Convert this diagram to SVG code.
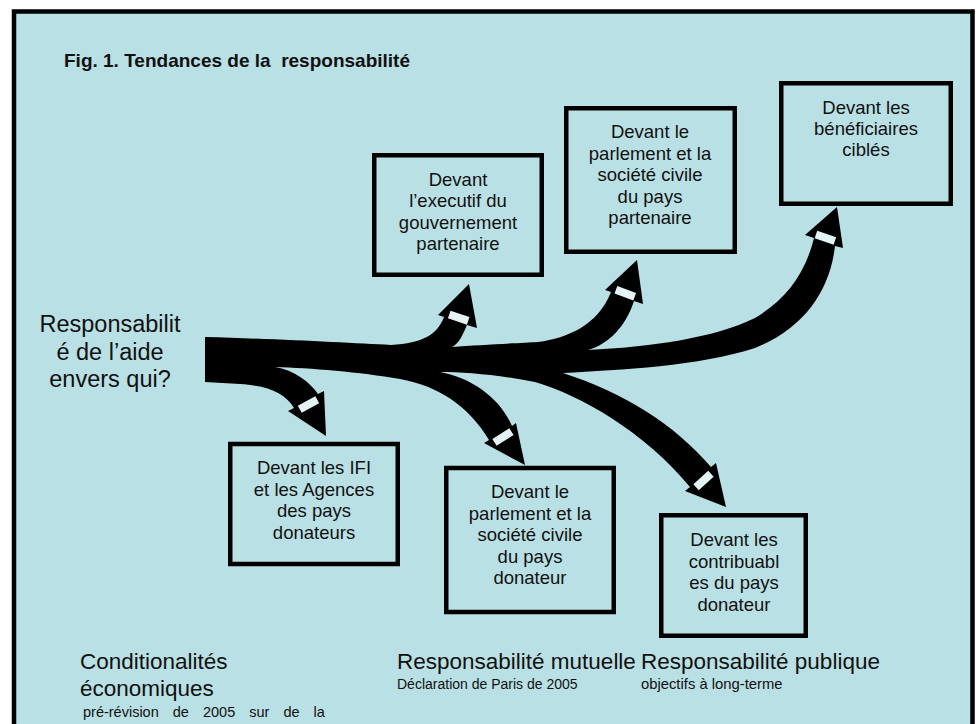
<svg xmlns="http://www.w3.org/2000/svg" width="979" height="724" viewBox="0 0 979 724">
<style>
.bg{fill:#b9e0e4}
.box{fill:#b9e0e4;stroke:#000;stroke-width:4.5}
.t{font-family:"Liberation Sans",Arial,sans-serif;font-size:18.5px;fill:#111;text-anchor:middle}
.lbl{font-family:"Liberation Sans",Arial,sans-serif;fill:#111}
.mark{fill:#e6f3f4}
</style>
<rect x="0" y="0" width="979" height="724" fill="#fff"/>
<rect class="bg" x="14" y="11.5" width="958.5" height="713"/>
<path d="M14 724 V11.5 H972.5 V724" fill="none" stroke="#000" stroke-width="4.5"/>

<text class="lbl" x="64" y="67" font-size="19" font-weight="bold" xml:space="preserve">Fig. 1. Tendances de la  responsabilité</text>

<g id="connectors">
<path fill="#000" d="M205 337 C280 339 350 343 391 345 C423 343 437 335 444 317 L438 315 L469 284 L477 328 L467 325 C462 337 458 344 452 347 C480 345 520 343 538 342 C568 338 598 325 611 292 L605 290 L637 260 L643 304 L634 301 C626 326 609 344 588 350 C650 347 715 338 755 318 C785 300 805 275 814 238 L805 235 L837 207 L843 248 L835 246 C830 290 805 328 755 348 C700 366 620 370 563 373 C625 393 675 425 711 467 L716 463 L726 507 L685 491 L690 487 C645 432 580 395 535 382 C500 375 465 372 440 372 C472 378 500 398 512 426 L516 423 L525 465 L484 443 L489 440 C468 405 438 386 400 379 C360 372 310 368 275 367 C294 370 310 382 318 394 L324 391 L326 436 L288 411 L294 408 C285 393 268 386 240 384 L205 382 Z"/>
<rect class="mark" x="-10" y="-4" width="20" height="8" transform="translate(308.5 404.5) rotate(-29)"/>
<rect class="mark" x="-10" y="-4" width="20" height="8" transform="translate(458.7 317.7) rotate(18.4)"/>
<rect class="mark" x="-10" y="-4" width="20" height="8" transform="translate(625.3 293.2) rotate(20.2)"/>
<rect class="mark" x="-10" y="-4" width="20" height="8" transform="translate(825.4 237.7) rotate(18.9)"/>
<rect class="mark" x="-10" y="-4" width="20" height="8" transform="translate(503 437) rotate(-32)"/>
<rect class="mark" x="-10" y="-4" width="20" height="8" transform="translate(703.5 480.5) rotate(-42)"/>
</g>

<g id="source">
<text class="lbl" font-size="23.5" text-anchor="middle"><tspan x="110" y="332">Responsabilit</tspan><tspan x="110" y="359.5">é de l’aide</tspan><tspan x="110" y="387">envers qui?</tspan></text>
</g>

<g id="n-executif">
<rect class="box" x="374.25" y="155.25" width="167.5" height="119.5"/>
<text class="t"><tspan x="458" y="185.5">Devant</tspan><tspan x="458" y="207">l’executif du</tspan><tspan x="458" y="228.5">gouvernement</tspan><tspan x="458" y="250">partenaire</tspan></text>
</g>

<g id="n-parlement-partenaire">
<rect class="box" x="566.25" y="108.25" width="168.5" height="143.5"/>
<text class="t"><tspan x="650" y="138">Devant le</tspan><tspan x="650" y="159.5">parlement et la</tspan><tspan x="650" y="181">société civile</tspan><tspan x="650" y="202.5">du pays</tspan><tspan x="650" y="224">partenaire</tspan></text>
</g>

<g id="n-beneficiaires">
<rect class="box" x="781.25" y="83.25" width="169.5" height="120.5"/>
<text class="t"><tspan x="866" y="114">Devant les</tspan><tspan x="866" y="135">bénéficiaires</tspan><tspan x="866" y="156">ciblés</tspan></text>
</g>

<g id="n-ifi">
<rect class="box" x="230.25" y="444" width="167.5" height="120"/>
<text class="t"><tspan x="314" y="474">Devant les IFI</tspan><tspan x="314" y="495.5">et les Agences</tspan><tspan x="314" y="517">des pays</tspan><tspan x="314" y="538.5">donateurs</tspan></text>
</g>

<g id="n-parlement-donateur">
<rect class="box" x="446.25" y="468" width="167.5" height="144"/>
<text class="t"><tspan x="530" y="498">Devant le</tspan><tspan x="530" y="519.5">parlement et la</tspan><tspan x="530" y="541">société civile</tspan><tspan x="530" y="562.5">du pays</tspan><tspan x="530" y="584">donateur</tspan></text>
</g>

<g id="n-contribuables">
<rect class="box" x="661.25" y="515.25" width="144.5" height="120.5"/>
<text class="t"><tspan x="734" y="546">Devant les</tspan><tspan x="734" y="567.5">contribuabl</tspan><tspan x="734" y="589">es du pays</tspan><tspan x="734" y="610.5">donateur</tspan></text>
</g>

<g id="legend">
<text class="lbl" font-size="22.5"><tspan x="80" y="669">Conditionalités</tspan><tspan x="80" y="696">économiques</tspan></text>
<text class="lbl" font-size="14.5" x="83" y="717" word-spacing="10">pré-révision de 2005 sur de la</text>
<text class="lbl" font-size="22.5" x="397" y="669">Responsabilité mutuelle</text>
<text class="lbl" font-size="14" x="397" y="689">Déclaration de Paris de 2005</text>
<text class="lbl" font-size="22.5" x="641" y="669">Responsabilité publique</text>
<text class="lbl" font-size="14.8" x="641" y="689">objectifs à long-terme</text>
</g>
</svg>
